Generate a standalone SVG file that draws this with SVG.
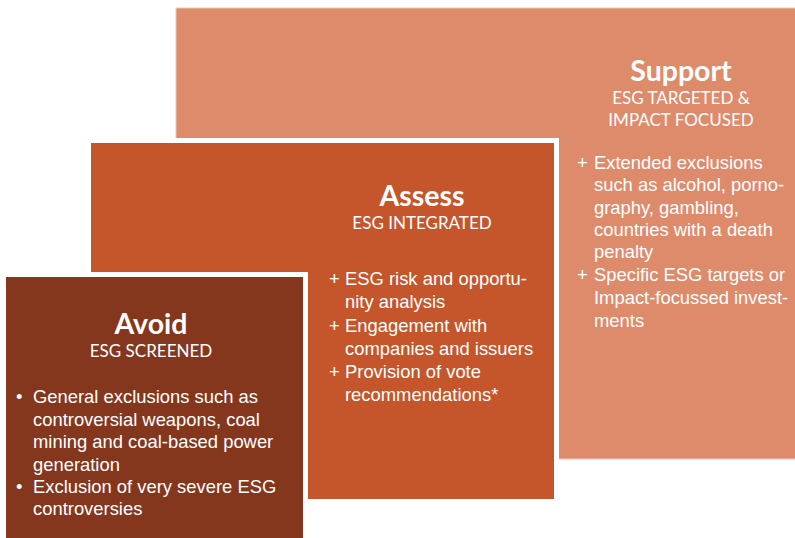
<svg xmlns="http://www.w3.org/2000/svg" width="795" height="538" viewBox="0 0 795 538">
<style>
.title{font-family:Lato,"Open Sans",sans-serif;font-weight:bold;font-size:28.5px;fill:#fff;text-anchor:middle}
.sub{font-family:Lato,"Open Sans",sans-serif;font-size:17px;fill:#fff;text-anchor:middle}
.body{font-family:"Liberation Sans",Arial,sans-serif;font-size:18.4px;fill:#fff}
</style>
<rect width="795" height="538" fill="#ffffff"/>
<g id="support">
<rect x="176" y="8" width="625" height="451" fill="#DE8B6C" stroke="#F3C7B5" stroke-width="1"/>
<text class="title" x="681" y="81">Support</text>
<text class="sub" x="681" y="104">ESG TARGETED &amp;</text>
<text class="sub" x="681" y="126">IMPACT FOCUSED</text>
<text class="body"><tspan x="577" y="169">+</tspan><tspan x="594" y="169">Extended exclusions</tspan><tspan x="594" y="191">such as alcohol, porno-</tspan><tspan x="594" y="214">graphy, gambling,</tspan><tspan x="594" y="236">countries with a death</tspan><tspan x="594" y="258">penalty</tspan><tspan x="577" y="281">+</tspan><tspan x="594" y="281">Specific ESG targets or</tspan><tspan x="594" y="304">Impact-focussed invest-</tspan><tspan x="594" y="327">ments</tspan></text>
</g>
<g id="assess">
<rect x="88.5" y="140.5" width="468" height="361" fill="#C5562B" stroke="#ffffff" stroke-width="5"/>
<text class="title" x="422" y="206">Assess</text>
<text class="sub" x="422" y="229">ESG INTEGRATED</text>
<text class="body"><tspan x="329" y="285">+</tspan><tspan x="345" y="285">ESG risk and opportu-</tspan><tspan x="345" y="308">nity analysis</tspan><tspan x="329" y="332">+</tspan><tspan x="345" y="332">Engagement with</tspan><tspan x="345" y="355">companies and issuers</tspan><tspan x="329" y="378">+</tspan><tspan x="345" y="378">Provision of vote</tspan><tspan x="345" y="401">recommendations*</tspan></text>
</g>
<g id="avoid">
<rect x="3.5" y="274.5" width="302" height="270" fill="#85371E" stroke="#ffffff" stroke-width="5"/>
<text class="title" x="151" y="334">Avoid</text>
<text class="sub" x="151" y="357">ESG SCREENED</text>
<text class="body"><tspan x="16" y="403">•</tspan><tspan x="33" y="403">General exclusions such as</tspan><tspan x="33" y="426">controversial weapons, coal</tspan><tspan x="33" y="448">mining and coal-based power</tspan><tspan x="33" y="471">generation</tspan><tspan x="16" y="493">•</tspan><tspan x="33" y="493">Exclusion of very severe ESG</tspan><tspan x="33" y="515">controversies</tspan></text>
</g>
<g id="connectors"></g>
</svg>
